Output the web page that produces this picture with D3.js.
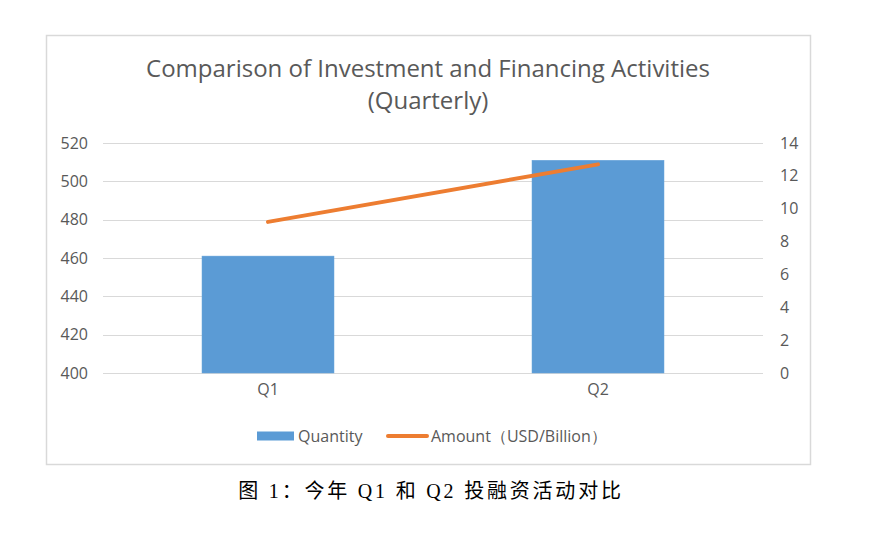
<!DOCTYPE html>
<html>
<head>
<meta charset="utf-8">
<script src="https://cdn.jsdelivr.net/npm/d3@7"></script>
<style>
  html, body { margin: 0; padding: 0; background: #fff; }
  svg { display: block; }
</style>
</head>
<body>
<div id="chart-container"></div>
<script>
const width = 875;
const height = 533;

// Data
const quarters = ["Q1", "Q2"];
const quantity = [461, 511];
const amount = [9.2, 12.7];
const leftTicks = [400, 420, 440, 460, 480, 500, 520];
const rightTicks = [0, 2, 4, 6, 8, 10, 12, 14];
const titleLines = ["Comparison of Investment and Financing Activities", "(Quarterly)"];
const legendLabels = ["Quantity", "Amount（USD/Billion）"];
const caption = "图 1：今年 Q1 和 Q2 投融资活动对比";

const sansFont = "'Open Sans', 'Noto Sans', sans-serif";
const textColor = "#595959";

const svg = d3.select("#chart-container")
  .append("svg")
  .attr("width", width)
  .attr("height", height);

// chart frame
svg.append("rect")
  .attr("x", 46.5)
  .attr("y", 35.5)
  .attr("width", 764)
  .attr("height", 429)
  .attr("fill", "#fff")
  .attr("stroke", "#d9d9d9")
  .attr("stroke-width", 1.5);

const plot = { left: 103, right: 763, top: 143, bottom: 373 };

const x = d3.scaleBand()
  .domain(quarters)
  .range([plot.left, plot.right])
  .paddingInner(0.6)
  .paddingOuter(0.3);

const yLeft = d3.scaleLinear()
  .domain([400, 520])
  .range([plot.bottom, plot.top]);

const yRight = d3.scaleLinear()
  .domain([0, 14])
  .range([plot.bottom, plot.top]);

// gridlines
svg.append("g")
  .selectAll("line")
  .data(leftTicks)
  .join("line")
  .attr("x1", plot.left)
  .attr("x2", plot.right)
  .attr("y1", d => Math.round(yLeft(d)) + 0.5)
  .attr("y2", d => Math.round(yLeft(d)) + 0.5)
  .attr("stroke", "#d9d9d9")
  .attr("stroke-width", 1);

// left axis
const leftAxis = svg.append("g")
  .attr("transform", `translate(${plot.left - 15},0)`)
  .call(d3.axisLeft(yLeft).tickValues(leftTicks).tickSize(0).tickPadding(0));
leftAxis.select(".domain").remove();
leftAxis.selectAll("text")
  .attr("fill", textColor)
  .style("font-family", sansFont)
  .style("font-size", "16px");

// right axis
const rightAxis = svg.append("g")
  .attr("transform", `translate(${plot.right + 17},0)`)
  .call(d3.axisRight(yRight).tickValues(rightTicks).tickSize(0).tickPadding(0));
rightAxis.select(".domain").remove();
rightAxis.selectAll("text")
  .attr("fill", textColor)
  .style("font-family", sansFont)
  .style("font-size", "16px");

// bars
svg.append("g")
  .selectAll("rect")
  .data(quarters)
  .join("rect")
  .attr("x", d => x(d))
  .attr("y", (d, i) => yLeft(quantity[i]))
  .attr("width", x.bandwidth())
  .attr("height", (d, i) => yLeft(400) - yLeft(quantity[i]))
  .attr("fill", "#5b9bd5")
  .attr("stroke", "#6aa6dc")
  .attr("stroke-width", 0.5);

// line
const line = d3.line()
  .x((d, i) => x(quarters[i]) + x.bandwidth() / 2)
  .y(d => yRight(d));

svg.append("path")
  .datum(amount)
  .attr("d", line)
  .attr("fill", "none")
  .attr("stroke", "#ed7d31")
  .attr("stroke-width", 4)
  .attr("stroke-linecap", "round");

// category labels
const bottomAxis = svg.append("g")
  .attr("transform", `translate(0,${plot.bottom + 8})`)
  .call(d3.axisBottom(x).tickSize(0).tickPadding(0));
bottomAxis.select(".domain").remove();
bottomAxis.selectAll("text")
  .attr("fill", textColor)
  .attr("dy", "0.9em")
  .style("font-family", sansFont)
  .style("font-size", "16px");

// title
svg.append("text")
  .attr("x", 428)
  .attr("y", 77)
  .attr("text-anchor", "middle")
  .attr("fill", textColor)
  .style("font-family", sansFont)
  .style("font-size", "24px")
  .selectAll("tspan")
  .data(titleLines)
  .join("tspan")
  .attr("x", 428)
  .attr("dy", (d, i) => i === 0 ? 0 : 32)
  .text(d => d);

// legend
const legend = svg.append("g").attr("transform", "translate(257,436)");
legend.append("rect")
  .attr("x", 0)
  .attr("y", -4.5)
  .attr("width", 37)
  .attr("height", 9)
  .attr("fill", "#5b9bd5");
legend.append("text")
  .attr("x", 41)
  .attr("y", 5.5)
  .attr("fill", textColor)
  .style("font-family", sansFont)
  .style("font-size", "16px")
  .text(legendLabels[0]);
legend.append("line")
  .attr("x1", 131)
  .attr("x2", 170)
  .attr("y1", 0)
  .attr("y2", 0)
  .attr("stroke", "#ed7d31")
  .attr("stroke-width", 4)
  .attr("stroke-linecap", "round");
legend.append("text")
  .attr("x", 174)
  .attr("y", 5.5)
  .attr("fill", textColor)
  .style("font-family", sansFont)
  .style("font-size", "16px")
  .text(legendLabels[1]);

// caption under the frame
svg.append("text")
  .attr("x", 431)
  .attr("y", 498)
  .attr("text-anchor", "middle")
  .attr("fill", "#000")
  .style("font-family", "'Liberation Serif', 'Noto Sans CJK SC', serif")
  .style("font-size", "20px")
  .style("letter-spacing", "2.8px")
  .text(caption);
</script>
</body>
</html>
